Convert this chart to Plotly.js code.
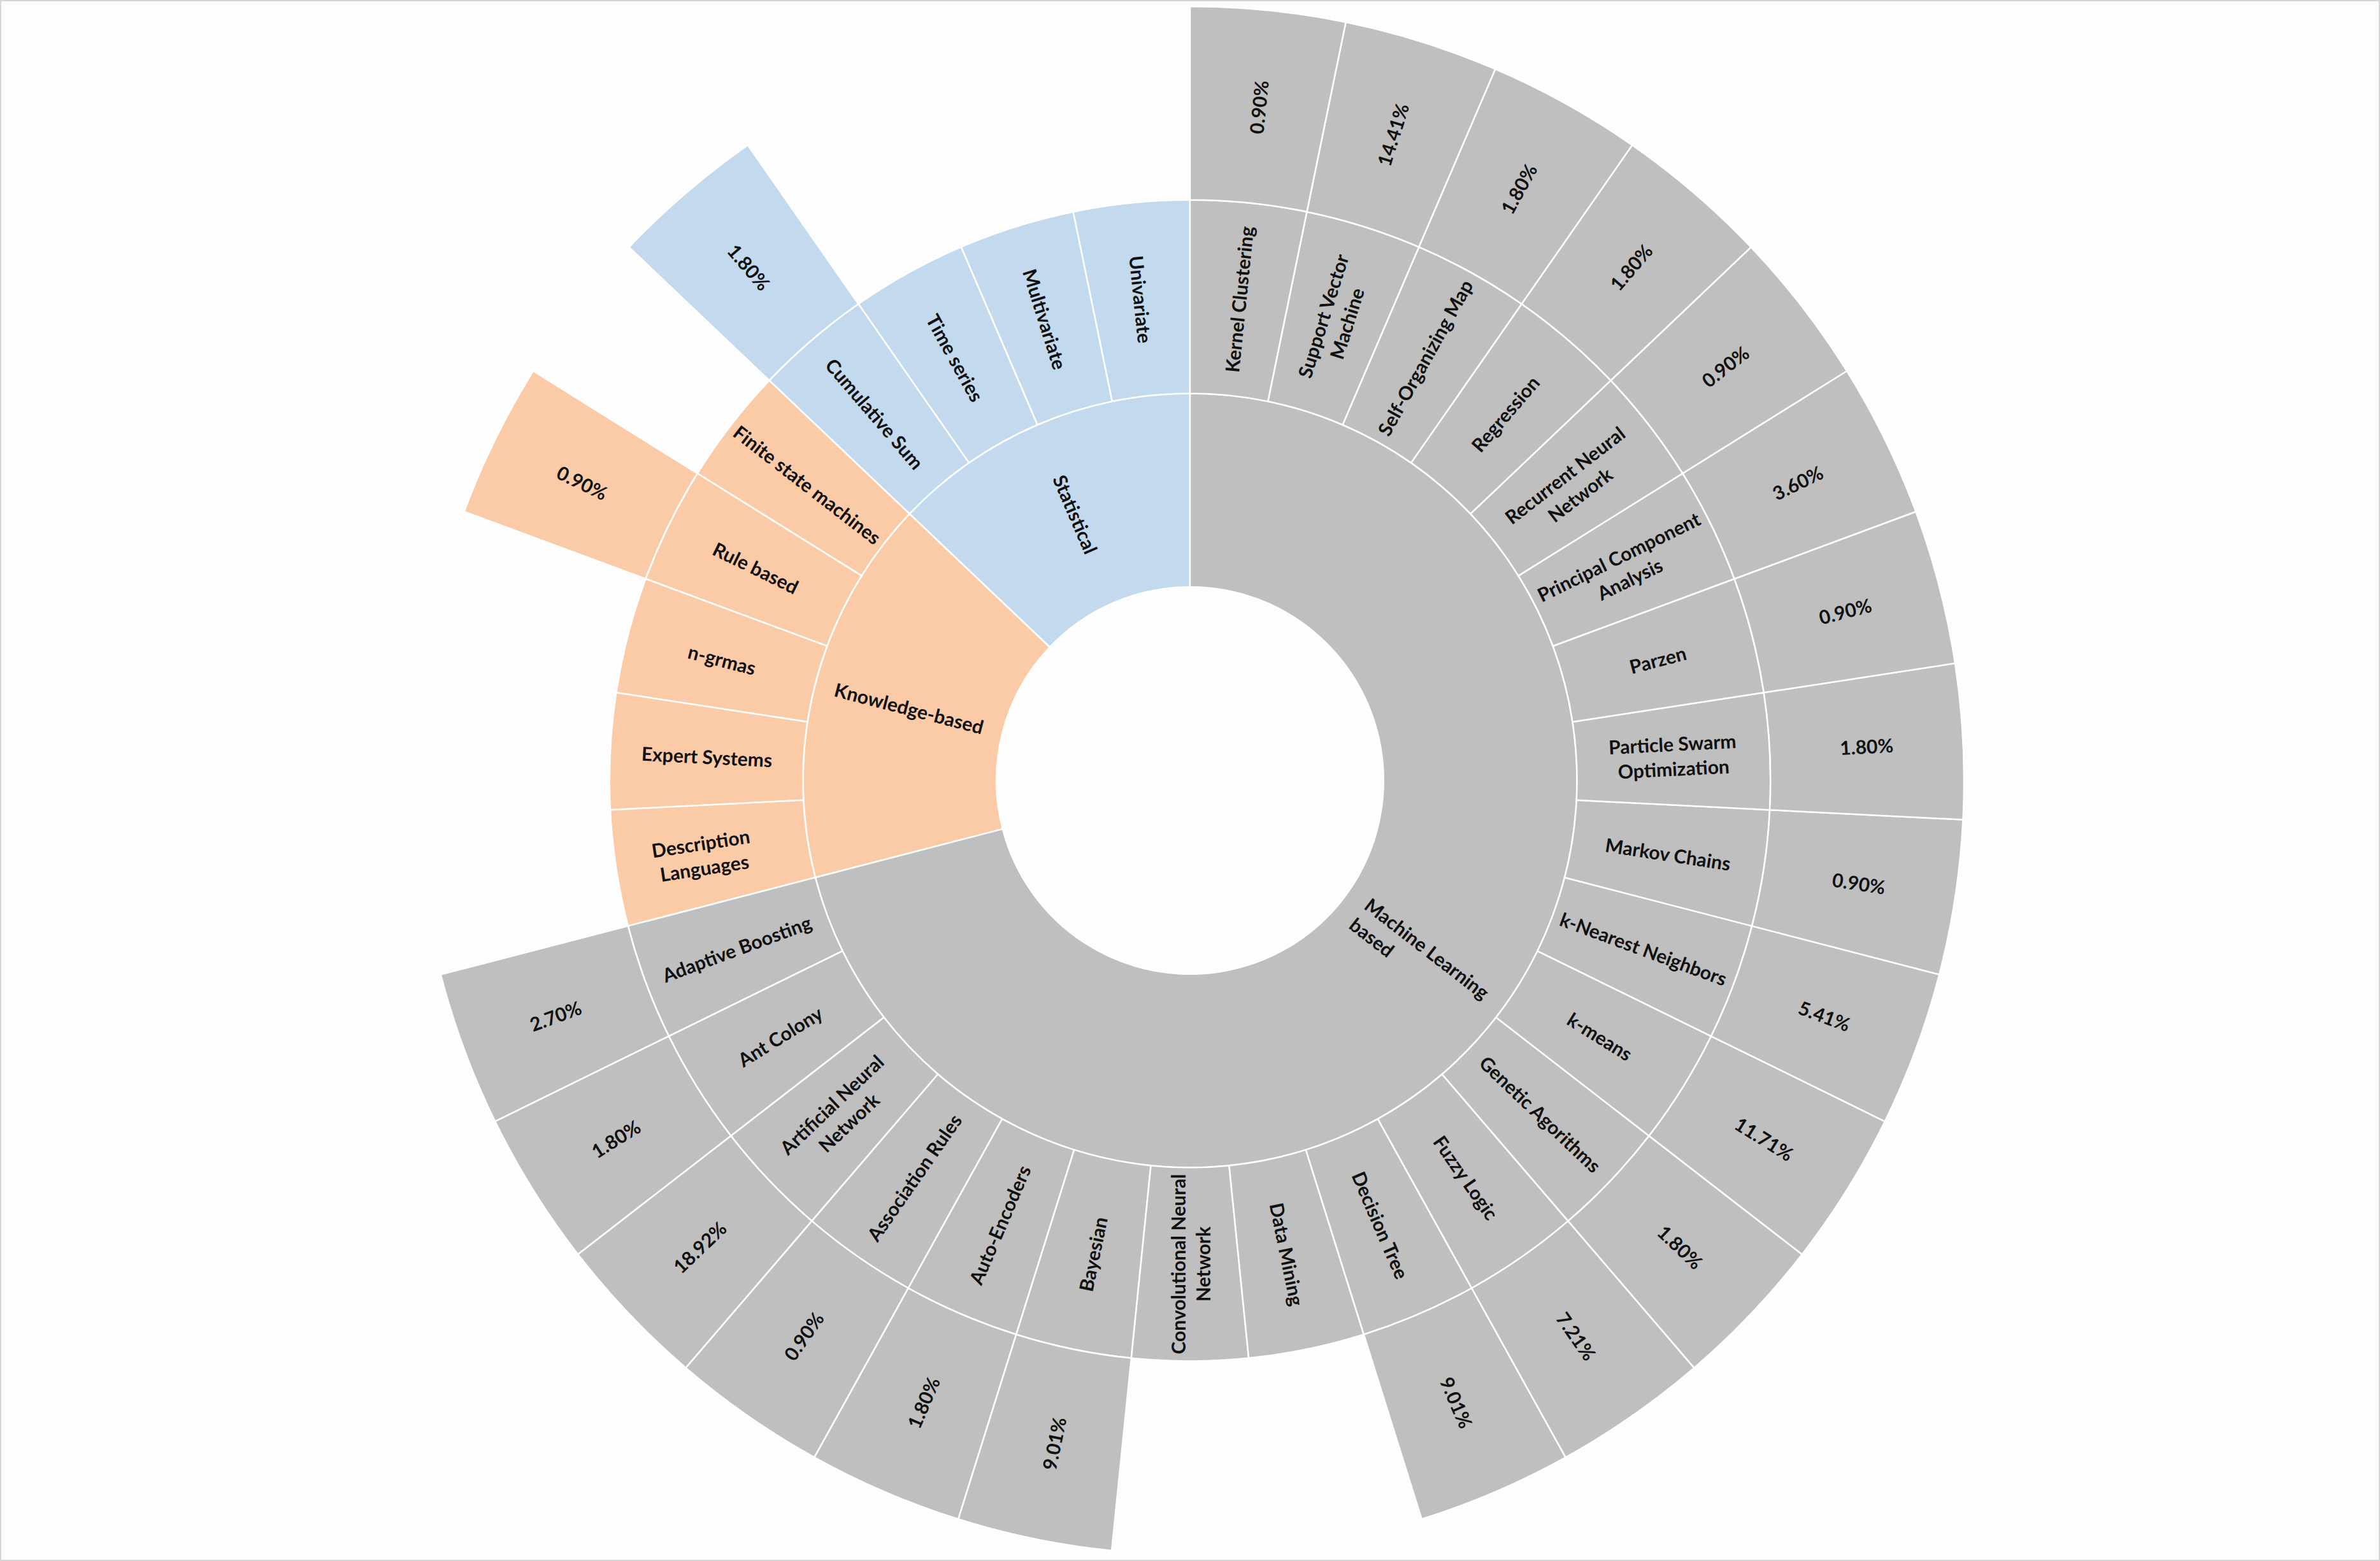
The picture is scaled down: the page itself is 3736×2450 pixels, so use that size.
<!DOCTYPE html>
<html>
<head>
<meta charset="utf-8">
<script src="https://cdn.plot.ly/plotly-3.0.1.min.js"></script>
<style>
  html, body { margin: 0; padding: 0; background: #fdfdfd; }
  #chart { width: 3736px; height: 2450px; }
</style>
</head>
<body>
<div id="chart"></div>
<script>
// level 1 groups
const groups = ['Statistical', 'Knowledge-based', 'Machine Learning<br>based'];
const groupColors = ['#c3d9ed', '#fbcba7', '#bfbfbf'];

// level 2 methods and level 3 shares (null = no share ring)
const statMethods = ['Univariate', 'Multivariate', 'Time series', 'Cumulative Sum'];
const statShares = [null, null, null, '1.80%'];

const kbMethods = ['Finite state machines', 'Rule based', 'n-grmas', 'Expert Systems', 'Description<br>Languages'];
const kbShares = [null, '0.90%', null, null, null];

const mlMethods = ['Adaptive Boosting', 'Ant Colony', 'Artificial Neural<br>Network', 'Association Rules',
  'Auto-Encoders', 'Bayesian', 'Convolutional Neural<br>Network', 'Data Mining', 'Decision Tree',
  'Fuzzy Logic', 'Genetic Agorithms', 'k-means', 'k-Nearest Neighbors', 'Markov Chains',
  'Particle Swarm<br>Optimization', 'Parzen', 'Principal Component<br>Analysis',
  'Recurrent Neural<br>Network', 'Regression', 'Self-Organizing Map', 'Support Vector<br>Machine',
  'Kernel Clustering'];
const mlShares = ['2.70%', '1.80%', '18.92%', '0.90%', '1.80%', '9.01%', null, null, '9.01%',
  '7.21%', '1.80%', '11.71%', '5.41%', '0.90%', '1.80%', '0.90%', '3.60%', '0.90%', '1.80%',
  '1.80%', '14.41%', '0.90%'];

const methodSets = [statMethods, kbMethods, mlMethods];
const shareSets = [statShares, kbShares, mlShares];

const W = 3736, H = 2450, M = 10;
const R = Math.min(W, H - 2 * M) / 2;
const fontSize = 30;
const textFont = {family: 'Lato', size: fontSize, color: '#111', weight: 'bold'};

let total = 0;
methodSets.forEach(function(ms) { total += ms.length; });

let ids = ['root'], labels = [''], parents = [''], values = [total], colors = ['rgba(255,255,255,0)'];
let texts = [''];
let annotations = [];

// plotly lays labels of sectors that cross 3 or 9 o'clock flat;
// put those at their mid angle instead, like the original
function addNode(id, label, parent, value, color, level, a0, a1) {
  ids.push(id); labels.push(label); parents.push(parent); values.push(value); colors.push(color);
  let crosses = (a0 < 90 && a1 > 90) || (a0 < 270 && a1 > 270);
  if (!crosses) { texts.push(label); return; }
  texts.push('');
  let am = (a0 + a1) / 2 * Math.PI / 180;
  let rm = R / 4 * (level + 0.5);
  let dx = -Math.sin(am), dy = -Math.cos(am);
  let ang = Math.atan2(dy, dx) * 180 / Math.PI;
  if (ang > 90) ang -= 180;
  if (ang < -90) ang += 180;
  annotations.push({
    x: 0.5 + dx * rm / W, y: 0.5 - dy * rm / (H - 2 * M),
    xref: 'paper', yref: 'paper', xanchor: 'center', yanchor: 'middle',
    showarrow: false, align: level === 1 ? 'left' : 'center',
    text: label, textangle: ang, font: textFont
  });
}

let k = 0;
groups.forEach(function(g, gi) {
  let gid = 'g' + gi;
  let methods = methodSets[gi];
  let g0 = k / total * 360, g1 = (k + methods.length) / total * 360;
  addNode(gid, g, 'root', methods.length, groupColors[gi], 1, g0, g1);
  methods.forEach(function(m, mi) {
    let mid = gid + 'm' + mi;
    let a0 = k / total * 360, a1 = (k + 1) / total * 360;
    addNode(mid, m, gid, 1, groupColors[gi], 2, a0, a1);
    let s = shareSets[gi][mi];
    if (s) addNode(mid + 's', s, mid, 1, groupColors[gi], 3, a0, a1);
    k += 1;
  });
});

let data = [{
  type: 'sunburst',
  ids: ids,
  labels: labels,
  parents: parents,
  values: values,
  text: texts,
  branchvalues: 'total',
  sort: false,
  rotation: 90,
  textinfo: 'text',
  insidetextorientation: 'radial',
  insidetextfont: textFont,
  marker: {colors: colors, line: {color: '#ffffff', width: 2.5}},
  leaf: {opacity: 1},
  hoverinfo: 'none'
}];

let layout = {
  width: W,
  height: H,
  margin: {l: 0, r: 0, t: M, b: M},
  paper_bgcolor: '#fdfdfd',
  showlegend: false,
  annotations: annotations,
  shapes: [{
    type: 'rect', xref: 'paper', yref: 'paper',
    x0: 0, x1: 1, y0: -M / (H - 2 * M), y1: 1 + M / (H - 2 * M),
    line: {color: '#d6d6d6', width: 4}
  }]
};

Plotly.newPlot('chart', data, layout, {displayModeBar: false});
</script>
</body>
</html>
